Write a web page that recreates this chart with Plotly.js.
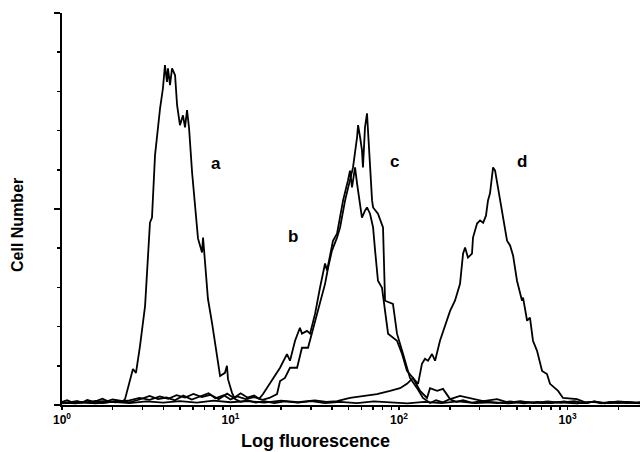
<!DOCTYPE html>
<html>
<head>
<meta charset="utf-8">
<script src="https://cdn.plot.ly/plotly-3.0.1.min.js"></script>
<style>html,body{margin:0;padding:0;background:#fff;}#chart{width:640px;height:452px;}</style>
</head>
<body>
<div id="chart"></div>
<script>
// Histogram data: x = log10(fluorescence), y = cell count (arbitrary units)
const aLog = [0.00,0.03,0.06,0.09,0.12,0.15,0.18,0.21,0.24,0.27,0.30,0.33,
  0.362,0.374,0.421,0.439,0.463,0.493,0.522,0.534,0.552,0.582,0.599,0.611,0.623,0.629,0.641,0.653,0.671,0.683,0.700,0.718,0.730,0.742,0.754,0.772,0.789,0.807,0.831,0.837,0.849,0.866,0.890,0.920,0.938,0.967,0.979,0.985,1.009,1.027,
  1.06,1.10,1.15,1.20,1.26,1.32,1.40,1.48,1.56,1.65,1.75,1.85,1.95,2.05,2.15,2.25,2.35,2.45,2.55,2.65,2.75,2.85,2.95,3.05,3.15,3.25,3.35,3.43];
const aCount = [0.8,1.2,0.7,1.0,0.6,1.3,0.9,1.1,1.6,1.0,1.4,1.2,
  1.0,1.5,9.2,8.2,15.1,25.3,46.5,47.8,63.7,75.7,80.8,86.7,82.4,85.9,81.6,85.9,84.1,76.5,71.4,73.9,70.8,75.2,70.6,59.3,50.9,42.5,38.9,42.7,36.3,27.1,21.0,12.5,7.4,8.2,10.0,6.6,3.1,1.5,
  0.8,1.2,0.6,1.0,0.5,0.9,0.6,1.0,0.5,0.8,0.5,0.9,0.6,0.4,0.8,0.5,0.9,0.5,0.7,0.4,0.8,0.5,0.7,0.4,0.8,0.5,0.7,0.5];

const bLog = [0.00,0.08,0.16,0.24,0.32,0.40,0.46,0.52,0.58,0.63,0.68,0.73,0.78,0.83,0.88,0.93,0.98,1.02,1.06,1.10,1.14,1.17,
  1.193,1.234,1.294,1.335,1.353,1.383,1.412,1.424,1.454,1.472,1.502,1.531,1.561,1.573,1.591,1.608,1.632,1.650,1.668,1.697,1.709,1.721,1.739,1.751,1.769,1.780,1.798,1.810,1.828,1.846,1.858,1.875,1.899,1.917,1.935,1.988,2.018,2.047,2.083,2.125,2.166,2.184,2.226,2.261,2.303,2.362,2.421,2.499,2.582,
  2.65,2.72,2.80,2.88,2.96,3.04,3.10,3.16,3.22,3.28,3.35,3.43];
const bCount = [0.5,0.9,0.6,1.0,0.7,1.2,1.8,1.3,2.2,1.6,2.5,1.9,2.8,2.0,2.6,1.5,2.9,1.8,3.0,1.9,2.4,1.6,
  2.8,5.4,9.5,13.0,11.3,16.4,19.7,18.2,18.9,18.2,23.3,29.9,36.1,34.3,38.6,41.9,43.7,47.8,52.2,57.3,59.8,55.5,60.6,56.5,50.4,47.8,49.6,50.4,48.8,45.3,39.4,31.7,29.9,23.3,18.2,16.4,13.0,8.7,6.9,3.6,1.8,4.3,3.6,4.1,1.5,2.3,1.8,1.0,1.5,
  0.6,1.0,0.5,0.9,0.6,1.0,0.5,0.9,0.4,0.8,0.5,0.7];

const cLog = [0.00,0.08,0.16,0.24,0.32,0.40,0.46,0.52,0.57,0.62,0.67,0.72,0.77,0.82,0.87,0.91,0.96,1.00,1.04,1.09,1.14,1.19,1.23,
  1.276,1.294,1.323,1.353,1.395,1.424,1.460,1.502,1.531,1.561,1.579,1.602,1.632,1.650,1.680,1.709,1.727,1.751,1.757,1.769,1.780,1.786,1.798,1.810,1.816,1.828,1.840,1.846,1.875,1.905,1.911,1.917,1.964,1.988,2.024,2.065,2.107,2.142,2.184,
  2.22,2.26,2.30,2.34,2.38,2.43,2.50,2.58,2.66,2.74,2.82,2.90,2.98,3.06,3.14,3.22,3.30,3.43];
const cCount = [0.6,0.4,0.8,0.5,1.0,0.7,1.4,2.3,1.5,1.9,1.2,2.4,1.4,2.1,3.0,1.7,2.5,1.4,2.2,1.5,2.0,1.3,1.8,
  2.8,6.1,6.9,9.5,9.5,14.6,14.6,21.5,26.6,30.9,35.0,39.4,42.7,45.3,52.2,57.3,60.6,68.3,71.4,68.3,65.0,60.6,70.8,74.4,69.3,60.6,52.2,50.4,48.8,45.3,34.3,26.6,25.8,18.2,13.0,6.9,4.3,1.8,0.5,
  1.2,0.7,1.5,0.8,1.2,0.6,1.0,0.5,0.9,0.4,0.8,0.5,0.9,0.4,0.8,0.5,0.9,0.5];

const dLog = [0.00,0.10,0.20,0.30,0.40,0.50,0.60,0.70,0.80,0.90,1.00,1.10,1.20,1.30,1.40,1.50,1.57,
  1.632,1.709,1.786,1.869,1.947,2.006,2.047,2.083,2.113,2.136,2.154,2.172,2.196,2.214,2.243,2.285,2.303,2.332,2.362,2.380,2.392,2.409,2.433,2.439,2.463,2.481,2.499,2.516,2.528,2.540,2.558,2.570,2.588,2.617,2.641,2.659,2.677,2.700,2.730,2.736,2.760,2.777,2.795,2.819,2.849,2.878,2.896,2.944,2.973,3.056,3.116,
  3.16,3.20,3.25,3.30,3.35,3.43];
const dCount = [0.4,0.7,0.4,0.8,0.5,0.9,0.6,1.0,0.6,1.1,0.7,1.0,0.6,1.1,0.7,1.2,0.8,
  1.0,1.8,2.3,2.8,3.6,4.3,5.4,6.9,5.4,10.5,11.8,11.3,13.0,11.3,16.4,21.5,24.0,26.6,30.9,38.6,40.2,37.6,38.6,42.7,46.3,47.1,46.5,48.3,52.2,54.0,60.6,59.8,55.5,47.8,41.9,40.7,38.1,31.7,26.6,27.4,21.5,22.3,16.4,13.8,8.7,7.9,5.4,3.6,1.8,1.5,0.5,
  0.9,0.4,0.8,0.5,0.8,0.4];

const curveLabels = ["a","b","c","d"];
const labelLog = [0.914, 1.371, 1.976, 2.730];
const labelCount = [61.7, 42.9, 62.0, 62.0];

const decadeText = ["10<sup>0</sup>","10<sup>1</sup>","10<sup>2</sup>","10<sup>3</sup>"];

function toLin(arr){ return arr.map(v => Math.pow(10, v)); }
const lineStyle = {color:"#000", width:1.8};
const traces = [[aLog,aCount],[bLog,bCount],[cLog,cCount],[dLog,dCount]].map(p => ({
  type:"scatter", mode:"lines", x: toLin(p[0]), y: p[1], line: lineStyle, hoverinfo:"skip", showlegend:false
}));

// tick positions: decades (labelled) and 2..9 within each decade (unlabelled)
const tickVals = [], tickText = [];
for (let k = 0; k < 4; k++) {
  for (let m = 1; m <= 9; m++) {
    const v = m * Math.pow(10, k);
    if (Math.log10(v) > 3.43) break;
    tickVals.push(v);
    tickText.push(m === 1 ? decadeText[k] : " ");
  }
}

const font = "Liberation Sans, Arial, Helvetica, sans-serif";
const annotations = curveLabels.map((t,i) => ({
  text: t, x: labelLog[i], y: labelCount[i], xref:"x", yref:"y", showarrow:false,
  xanchor:"center", yanchor:"middle",
  font:{family:font, size:17, color:"#000", weight:"bold"}
}));
annotations.push({text:"Cell Number", xref:"paper", yref:"paper", x:-0.078, y:0.459, textangle:-90,
  xanchor:"center", yanchor:"middle",
  showarrow:false, font:{family:font, size:16, color:"#000", weight:"bold"}});
annotations.push({text:"Log fluorescence", xref:"paper", yref:"paper", x:0.439, y:-0.092,
  xanchor:"center", yanchor:"middle",
  showarrow:false, font:{family:font, size:18, color:"#000", weight:"bold"}});

const layout = {
  width:640, height:452,
  margin:{l:62, r:0, t:13, b:47},
  paper_bgcolor:"#fff", plot_bgcolor:"#fff",
  showlegend:false,
  xaxis:{type:"log", range:[0,3.43], tickmode:"array", tickvals:tickVals, ticktext:tickText, tickangle:0,
    ticks:"outside", ticklen:3, tickwidth:1.5, tickcolor:"#000",
    showline:true, linecolor:"#000", linewidth:2, showgrid:false, zeroline:false,
    tickfont:{family:font, size:12, color:"#000", weight:"bold"}},
  yaxis:{range:[0,100], tickmode:"linear", tick0:0, dtick:50, ticks:"outside", ticklen:6, tickwidth:1.5, tickcolor:"#000",
    showticklabels:false, showline:true, linecolor:"#000", linewidth:2, showgrid:false, zeroline:false,
    minor:{dtick:10, ticks:"outside", ticklen:3, tickwidth:1.5, tickcolor:"#000", showgrid:false}},
  annotations: annotations
};
Plotly.newPlot("chart", traces, layout, {staticPlot:true, displayModeBar:false});
</script>
</body>
</html>
